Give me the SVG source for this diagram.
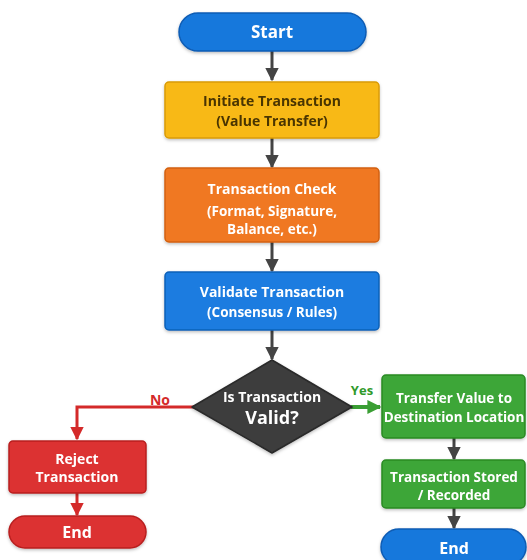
<svg xmlns="http://www.w3.org/2000/svg" width="527" height="560" viewBox="0 0 527 560">
<style>
.t{font-family:"Open Sans","Liberation Sans",sans-serif;font-weight:700;text-anchor:middle;}
.w{fill:#ffffff;}
.s14{font-size:14px;}
.s13{font-size:13.5px;}
.conn{fill:none;stroke:#444444;stroke-width:3;}
</style>
<defs>
<marker id="ah" viewBox="0 0 10 10" refX="9" refY="5" markerWidth="4.5" markerHeight="4.5" orient="auto" markerUnits="strokeWidth"><path d="M0,0 L10,5 L0,10 z" fill="#444444"/></marker>
<marker id="ahr" viewBox="0 0 10 10" refX="9" refY="5" markerWidth="4.5" markerHeight="4.5" orient="auto" markerUnits="strokeWidth"><path d="M0,0 L10,5 L0,10 z" fill="#d42a2a"/></marker>
<marker id="ahg" viewBox="0 0 10 10" refX="9" refY="5" markerWidth="3.5" markerHeight="3.5" orient="auto" markerUnits="strokeWidth"><path d="M0,0 L10,5 L0,10 z" fill="#3a9e34"/></marker>
<filter id="sh" x="-10%" y="-10%" width="120%" height="130%"><feDropShadow dx="0" dy="1.5" stdDeviation="1.5" flood-color="#000" flood-opacity="0.25"/></filter>
</defs>
<rect width="527" height="560" fill="#ffffff"/>
<g id="connectors">
<line class="conn" x1="272" y1="51" x2="272" y2="80" marker-end="url(#ah)"/>
<line class="conn" x1="272" y1="138" x2="272" y2="167" marker-end="url(#ah)"/>
<line class="conn" x1="272" y1="242" x2="272" y2="271" marker-end="url(#ah)"/>
<line class="conn" x1="272" y1="330" x2="272" y2="359" marker-end="url(#ah)"/>
<polyline fill="none" stroke="#d42a2a" stroke-width="3" points="194,407 77,407 77,439" marker-end="url(#ahr)"/>
<text class="t" x="160" y="405" font-size="14" fill="#d42a2a">No</text>
<line fill="none" stroke="#3a9e34" stroke-width="4" x1="351" y1="407" x2="380" y2="407" marker-end="url(#ahg)"/>
<text class="t" x="362" y="395" font-size="13" fill="#2f9a2a">Yes</text>
<line stroke="#d42a2a" stroke-width="3" x1="77" y1="493" x2="77" y2="515" marker-end="url(#ahr)"/>
<line class="conn" x1="454" y1="438" x2="454" y2="459" marker-end="url(#ah)"/>
<line class="conn" x1="454" y1="508" x2="454" y2="528" marker-end="url(#ah)"/>
</g>
<g id="start" filter="url(#sh)">
<rect x="179" y="13" width="187" height="38" rx="19" fill="#1878dc" stroke="#0d5cb4" stroke-width="1.5"/>
<text class="t w" x="272" y="38" font-size="17">Start</text>
</g>
<g id="initiate" filter="url(#sh)">
<rect x="165" y="82" width="214" height="56" rx="4" fill="#f8b914" stroke="#d99a06" stroke-width="1.5"/>
<text class="t s14" x="272" y="106" fill="#4a3505">Initiate Transaction</text>
<text class="t s14" x="272" y="126" fill="#4a3505">(Value Transfer)</text>
</g>
<g id="check" filter="url(#sh)">
<rect x="165" y="168" width="214" height="74" rx="4" fill="#f07822" stroke="#d2600f" stroke-width="1.5"/>
<text class="t w s14" x="272" y="194">Transaction Check</text>
<text class="t w s13" x="272" y="216">(Format, Signature,</text>
<text class="t w s13" x="272" y="234">Balance, etc.)</text>
</g>
<g id="validate" filter="url(#sh)">
<rect x="165" y="272" width="214" height="58" rx="4" fill="#1a7ce0" stroke="#0e60b8" stroke-width="1.5"/>
<text class="t w s14" x="272" y="297">Validate Transaction</text>
<text class="t w s13" x="272" y="317">(Consensus / Rules)</text>
</g>
<g id="decision" filter="url(#sh)">
<polygon points="272,360 352,407 272,453 192,407" fill="#3c3c3c" stroke="#2a2a2a" stroke-width="1.5" stroke-linejoin="round"/>
<text class="t w" x="272" y="402" font-size="14">Is Transaction</text>
<text class="t w" x="272" y="424" font-size="18">Valid?</text>
</g>
<g id="reject" filter="url(#sh)">
<rect x="9" y="441" width="137" height="52" rx="4" fill="#dc3131" stroke="#b81f1f" stroke-width="1.5"/>
<text class="t w s14" x="77" y="464">Reject</text>
<text class="t w s14" x="77" y="482">Transaction</text>
</g>
<g id="end-left" filter="url(#sh)">
<rect x="9" y="516" width="137" height="32" rx="16" fill="#dc3131" stroke="#b81f1f" stroke-width="1.5"/>
<text class="t w" x="77" y="538" font-size="16">End</text>
</g>
<g id="transfer" filter="url(#sh)">
<rect x="382" y="375" width="143" height="63" rx="4" fill="#3ea637" stroke="#2a8a25" stroke-width="1.5"/>
<text class="t w" x="454" y="403" font-size="13.5">Transfer Value to</text>
<text class="t w" x="454" y="422" font-size="13.5">Destination Location</text>
</g>
<g id="stored" filter="url(#sh)">
<rect x="382" y="460" width="143" height="48" rx="4" fill="#3ea637" stroke="#2a8a25" stroke-width="1.5"/>
<text class="t w" x="454" y="482" font-size="13.5">Transaction Stored</text>
<text class="t w" x="454" y="500" font-size="13.5">/ Recorded</text>
</g>
<g id="end-right" filter="url(#sh)">
<rect x="381" y="529" width="145" height="36" rx="18" fill="#1878dc" stroke="#0d5cb4" stroke-width="1.5"/>
<text class="t w" x="454" y="554" font-size="16">End</text>
</g>
</svg>
